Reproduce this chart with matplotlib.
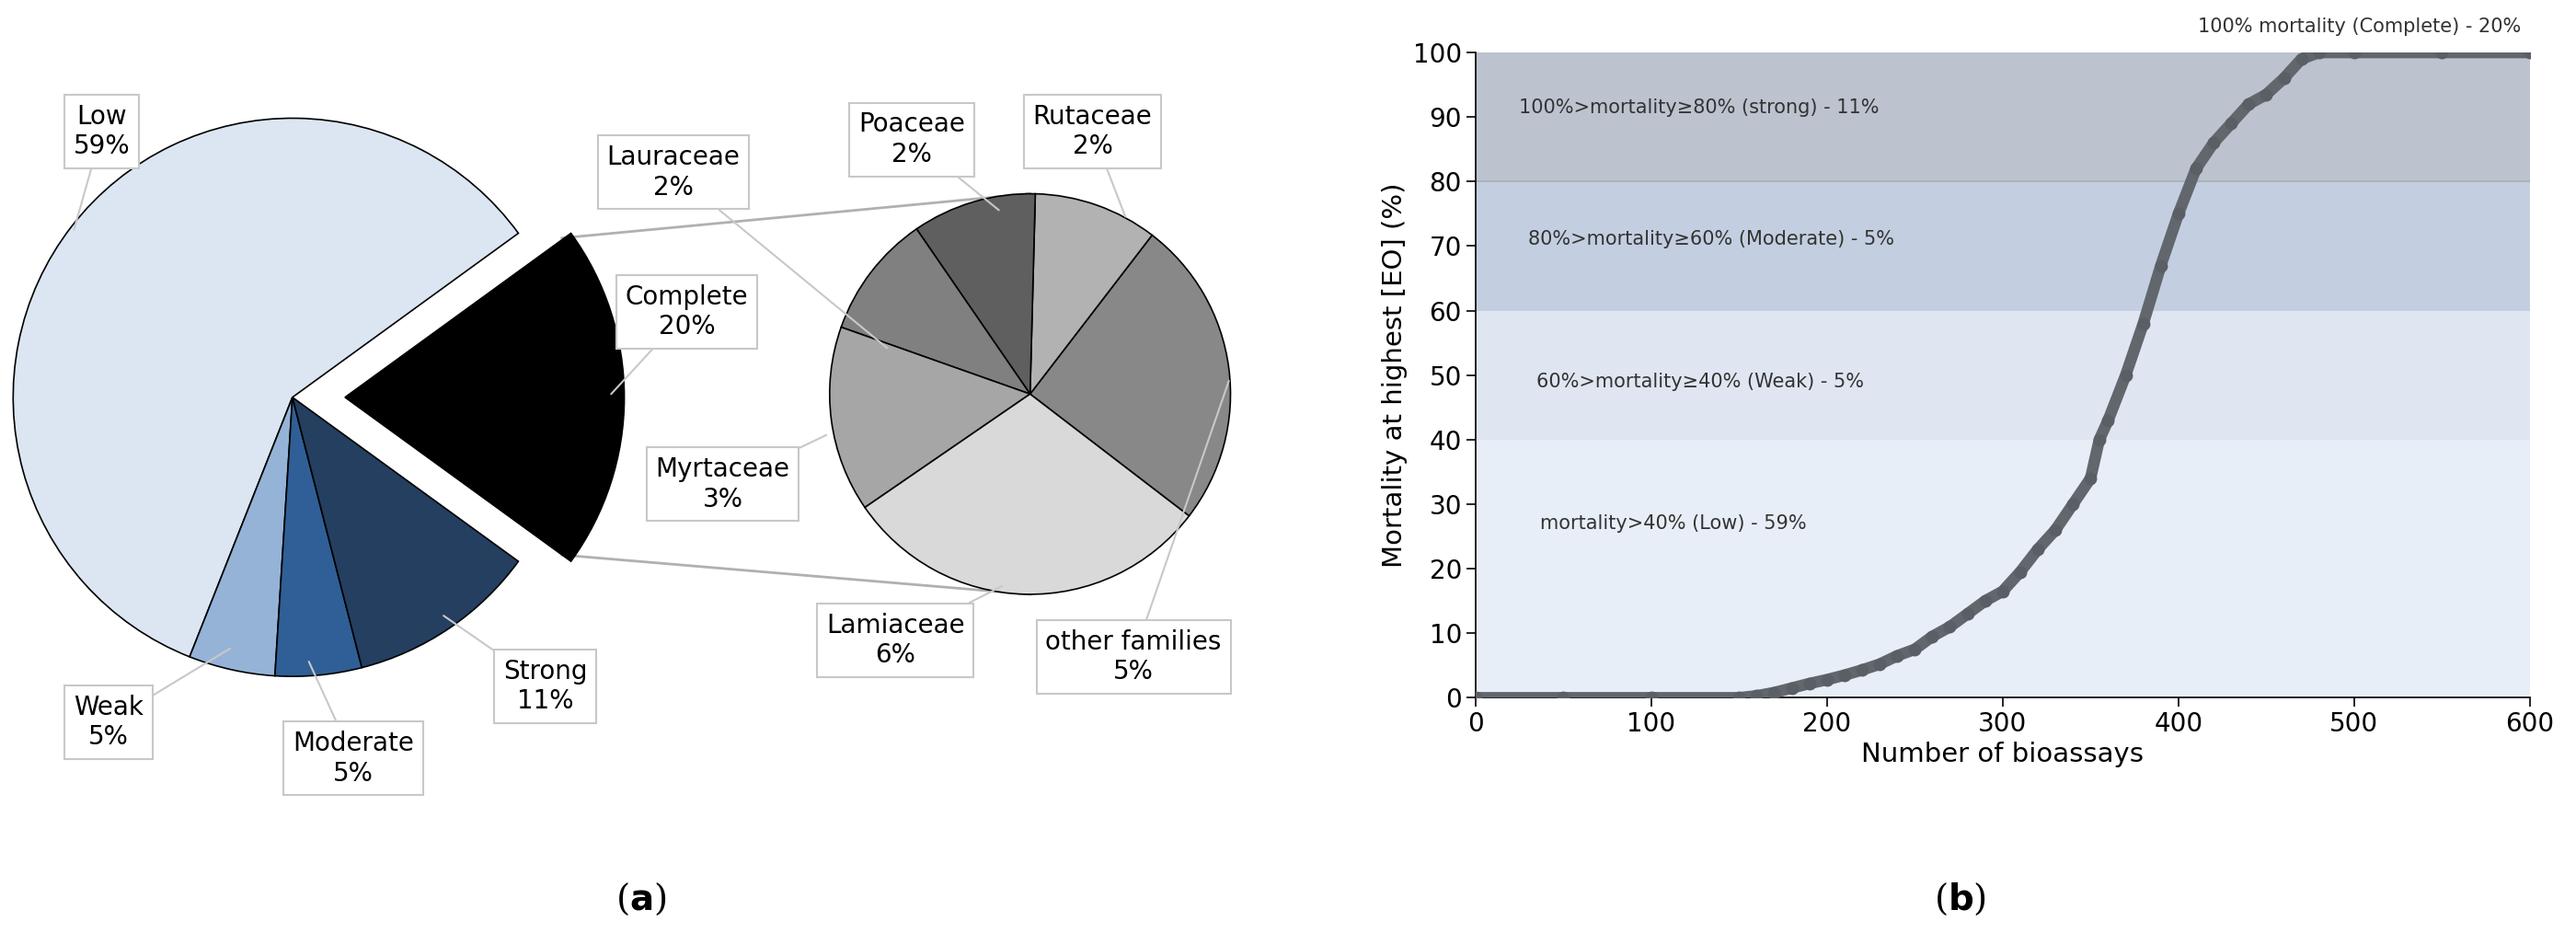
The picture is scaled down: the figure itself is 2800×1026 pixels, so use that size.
import numpy as np
import matplotlib
matplotlib.use('Agg')
from matplotlib import pyplot as plt

# Panel (a): activity classes and families inside the "Complete" class
class_names = ['Complete', 'Low', 'Weak', 'Moderate', 'Strong']
class_share = [20, 59, 5, 5, 11]
class_colours = ['#000000', '#dce6f2', '#95b3d7', '#2f5f96', '#243f60']

family_names = ['other families', 'Rutaceae', 'Poaceae', 'Lauraceae', 'Myrtaceae', 'Lamiaceae']
family_share = [5, 2, 2, 2, 3, 6]
family_colours = ['#888888', '#b2b2b2', '#5f5f5f', '#808080', '#a6a6a6', '#d9d9d9']

# Panel (b): mortality
bioassay_n = [0, 50, 100, 150, 160, 170, 180, 190, 200, 210, 220, 230, 240, 250, 260,
              270, 280, 290, 300, 310, 320, 330, 340, 350, 355, 360, 370, 380, 390,
              400, 410, 420, 430, 440, 450, 460, 470, 480, 500, 550, 600]
mortality = [0, 0, 0, 0, 0.3, 0.8, 1.5, 2.2, 2.8, 3.5, 4.3, 5.2, 6.5, 7.5, 9.5,
             11, 13, 15, 16.5, 19.5, 23, 26, 30, 34, 40, 43, 50, 58, 67,
             75, 82, 86, 89, 92, 93.5, 96, 99, 100, 100, 100, 100]
band_edges = [0, 40, 60, 80, 100]
band_colours = ['#e8eef7', '#dfe6f2', '#c3cfe0', '#bcc3cf']
band_texts = ['mortality>40% (Low) - 59%', '60%>mortality≥40% (Weak) - 5%',
              '80%>mortality≥60% (Moderate) - 5%', '100%>mortality≥80% (strong) - 11%']
band_text_pos = [(37, 27), (35, 49), (30, 71), (25, 91.5)]

W, H = 1568, 575  # layout units (reference pixel grid)
fig = plt.figure(figsize=(28, 10.26), dpi=100)

ax = fig.add_axes([0, 0, 800 / W, 1])


def up(y):
    return H - y


wp = dict(edgecolor='black', linewidth=1.2)
ax.pie(class_share, colors=class_colours, startangle=-36, counterclock=True,
       center=(178, up(242)), radius=170, explode=[32, 0, 0, 0, 0],
       wedgeprops=wp, frame=True)
ax.pie(family_share, colors=family_colours, startangle=-37.5, counterclock=True,
       center=(627, up(240)), radius=122, wedgeprops=wp, frame=True)
ax.set_xlim(0, 800)
ax.set_ylim(0, H)
ax.set_aspect('auto')
ax.axis('off')

# connector lines from the exploded slice to the family pie
for (x0, y0), (x1, y1) in [((342, 145), (627, 118)), ((342, 338), (627, 362))]:
    ax.plot([x0, x1], [up(y0), up(y1)], color='#b0b0b0', lw=2, zorder=0)

labels = [
    ('Low', (62, 80), (45, 140)),
    ('Complete', (418, 190), (372, 240)),
    ('Strong', (332, 418), (270, 375)),
    ('Moderate', (215, 462), (188, 403)),
    ('Weak', (66, 440), (140, 395)),
    ('Lauraceae', (410, 105), (540, 212)),
    ('Poaceae', (555, 85), (608, 128)),
    ('Rutaceae', (665, 80), (685, 132)),
    ('Myrtaceae', (440, 295), (503, 265)),
    ('Lamiaceae', (545, 390), (610, 357)),
    ('other families', (690, 400), (748, 232)),
]
shares = dict(zip(class_names + family_names, class_share + family_share))
for name, (tx, ty), (px, py) in labels:
    ax.annotate(f'{name}\n{shares[name]}%', xy=(px, up(py)), xytext=(tx, up(ty)),
                ha='center', va='center', fontsize=20, linespacing=1.2,
                bbox=dict(boxstyle='square,pad=0.35', fc='white', ec='#c8c8c8', lw=1.5),
                arrowprops=dict(arrowstyle='-', color='#c8c8c8', lw=1.5,
                                shrinkA=0, shrinkB=0))

fig.text(390 / W, 1 - 548 / H, r'($\mathbf{a}$)', fontsize=28, family='DejaVu Serif',
         ha='center', va='center')
fig.text(1193 / W, 1 - 548 / H, r'($\mathbf{b}$)', fontsize=28, family='DejaVu Serif',
         ha='center', va='center')

# Panel (b)
bx = fig.add_axes([898 / W, 1 - 425 / H, (1540 - 898) / W, (425 - 32) / H])
for lo, hi, c in zip(band_edges[:-1], band_edges[1:], band_colours):
    bx.axhspan(lo, hi, color=c, lw=0, zorder=0)
bx.axhline(80, color='#a8aeb8', lw=1.2, zorder=1)
for txt, (tx, ty) in zip(band_texts, band_text_pos):
    bx.text(tx, ty, txt, fontsize=15, color='#333333', va='center')
bx.text(595, 104, '100% mortality (Complete) - 20%', fontsize=15, color='#333333',
        ha='right', va='center', clip_on=False)
bx.plot(bioassay_n, mortality, color='#62666d', lw=9, solid_capstyle='round', zorder=3)
bx.plot(bioassay_n, mortality, 'o', color='#5a5e65', ms=9, zorder=4)
bx.set_xlim(0, 600)
bx.set_ylim(0, 100)
bx.set_xticks(range(0, 601, 100))
bx.set_yticks(range(0, 101, 10))
bx.tick_params(labelsize=20, direction='out', length=7, width=1.2)
for s in ('top', 'right'):
    bx.spines[s].set_visible(False)
bx.spines['left'].set_linewidth(1.2)
bx.spines['bottom'].set_linewidth(1.2)
bx.set_xlabel('Number of bioassays', fontsize=21)
bx.set_ylabel('Mortality at highest [EO] (%)', fontsize=21)

fig.savefig('out.png', dpi=100, facecolor='white')
